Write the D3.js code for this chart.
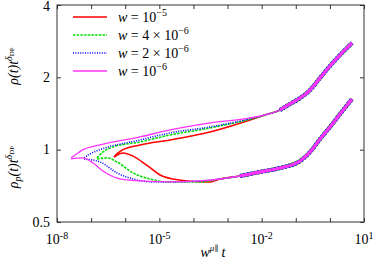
<!DOCTYPE html>
<html lang="en">
<head>
<meta charset="UTF-8">
<title>rho(t) scaling collapse</title>
<script src="https://d3js.org/d3.v7.min.js"></script>
<style>
  body { margin: 0; background: #fff; }
  svg { display: block; }
  text { font-family: "Liberation Serif", "DejaVu Serif", serif; fill: #000; }
  .axis path, .axis line { stroke: #333; }
</style>
</head>
<body>
<svg id="chart" width="374" height="263"></svg>
<script>
// legend / series
const seriesLabels = ["10^-5", "4 × 10^-6", "2 × 10^-6", "10^-6"];
const seriesColors = ["#ff0000", "#00e000", "#0000ff", "#ff33ff"];
const seriesDash = [null, "2.5,1.2", "1,1.4", null];

// rho(t) t^delta, early part of each curve (x = w^mu t)
const rhoX_a = [4.70e-7, 6.15e-7, 8.61e-7, 2.72e-6, 2.06e-5, 3.07e-4, 4.57e-3];
const rhoY_a = [0.932, 0.969, 1.0, 1.046, 1.097, 1.185, 1.329];
const rhoX_b = [1.49e-7, 2.23e-7, 3.58e-7, 2.72e-6, 2.06e-5, 3.07e-4, 4.57e-3];
const rhoY_b = [0.924, 0.978, 1.016, 1.077, 1.151, 1.231, 1.340];
const rhoX_c = [6.19e-8, 9.29e-8, 1.82e-7, 2.72e-6, 2.06e-5, 3.07e-4, 4.57e-3];
const rhoY_c = [0.924, 0.960, 1.0, 1.097, 1.174, 1.243, 1.345];
const rhoX_d = [2.58e-8, 4.13e-8, 5.78e-8, 1.82e-7, 2.72e-6, 2.06e-5, 3.07e-4, 4.57e-3];
const rhoY_d = [0.924, 0.969, 1.0, 1.046, 1.130, 1.208, 1.292, 1.355];

// rho_p(t) t^delta, early part
const rhoPX_a = [4.70e-7, 8.61e-7, 1.69e-6, 4.36e-6, 1.05e-5, 2.52e-5, 6.49e-5, 3.07e-4];
const rhoPY_a = [0.932, 0.969, 0.940, 0.860, 0.785, 0.755, 0.741, 0.734];
const rhoPX_b = [1.49e-7, 2.92e-7, 5.75e-7, 1.69e-6, 5.33e-6, 1.68e-5, 1.56e-4];
const rhoPY_b = [0.915, 0.924, 0.889, 0.800, 0.755, 0.734, 0.734];
const rhoPX_c = [6.19e-8, 1.82e-7, 5.75e-7, 1.69e-6, 6.53e-6, 1.68e-5, 1.56e-4];
const rhoPY_c = [0.915, 0.889, 0.800, 0.755, 0.734, 0.734, 0.741];
const rhoPX_d = [2.58e-8, 5.41e-8, 1.14e-7, 2.23e-7, 5.75e-7, 2.72e-6, 2.06e-5, 1.56e-4];
const rhoPY_d = [0.915, 0.924, 0.880, 0.815, 0.762, 0.741, 0.734, 0.741];

// collapsed late-time part (all w overlap)
const tailX_rho = [1.26e-2, 3.47e-2, 6.81e-2, 0.134, 0.262, 0.516, 1.01, 1.99, 4.48];
const tailY_rho = [1.395, 1.463, 1.55, 1.64, 1.77, 1.99, 2.23, 2.48, 2.78];
const tailX_rhoP = [6.03e-4, 2.33e-3, 8.97e-3, 3.47e-2, 0.134, 0.262, 0.516, 1.01, 1.99, 4.48];
const tailY_rhoP = [0.755, 0.777, 0.808, 0.839, 0.897, 0.978, 1.108, 1.243, 1.408, 1.626];

const xTicks = [1e-8, 1e-7, 1e-6, 1e-5, 1e-4, 1e-3, 1e-2, 1e-1, 1, 10];
const xLabelExp = [-8, -5, -2, 1];
const yTicks = [0.5, 1, 2, 4];

const svg = d3.select("#chart"),
    margin = {top: 5, right: 10, bottom: 41, left: 57},
    width = +svg.attr("width") - margin.left - margin.right,
    height = +svg.attr("height") - margin.top - margin.bottom,
    g = svg.append("g").attr("transform", `translate(${margin.left},${margin.top})`);

const x = d3.scaleLog().domain([1e-8, 10]).range([0, width]);
const y = d3.scaleLog().domain([0.5, 4]).range([height, 0]);

// frame
g.append("rect").attr("width", width).attr("height", height)
    .attr("fill", "none").attr("stroke", "#333").attr("stroke-width", 1);

// axes with inward ticks
g.append("g").attr("class", "axis").attr("transform", `translate(0,${height})`)
    .call(d3.axisBottom(x).tickValues(xTicks).tickSize(-4).tickFormat(""))
    .call(a => a.select(".domain").remove());
g.append("g").attr("class", "axis")
    .call(d3.axisTop(x).tickValues(xTicks).tickSize(-4).tickFormat(""))
    .call(a => a.select(".domain").remove());
g.append("g").attr("class", "axis")
    .call(d3.axisLeft(y).tickValues(yTicks).tickSize(-4).tickFormat(""))
    .call(a => a.select(".domain").remove());
g.append("g").attr("class", "axis").attr("transform", `translate(${width},0)`)
    .call(d3.axisRight(y).tickValues(yTicks).tickSize(-4).tickFormat(""))
    .call(a => a.select(".domain").remove());

// tick labels (top one kept inside the picture)
g.selectAll(".ylab").data(yTicks).enter().append("text")
    .attr("x", -7).attr("y", d => Math.max(y(d) + 4.5, 6))
    .attr("text-anchor", "end").attr("font-size", 14)
    .text(d => d);

const xl = g.selectAll(".xlab").data(xLabelExp).enter().append("text")
    .attr("x", d => x(Math.pow(10, d))).attr("y", height + 22)
    .attr("text-anchor", "middle").attr("font-size", 14);
xl.append("tspan").text("10");
xl.append("tspan").attr("dy", -5).attr("font-size", 10).text(d => d < 0 ? "-" + (-d) : d);

// axis titles
function ylabel(cy, sub) {
    const t = svg.append("text").attr("transform", `translate(18,${cy}) rotate(-90)`)
        .attr("text-anchor", "middle").attr("font-size", 14).attr("font-style", "italic");
    t.append("tspan").text("ρ");
    if (sub) t.append("tspan").attr("dy", 3).attr("font-size", 10).text("p");
    t.append("tspan").attr("dy", sub ? -3 : 0).text("(t)t");
    t.append("tspan").attr("dy", -6).attr("font-size", 10).text("δ");
    t.append("tspan").attr("dy", 2).attr("font-size", 7).attr("font-style", "normal").text("DP");
}
ylabel(66, false);
ylabel(167, true);

const xt = svg.append("text").attr("x", 213).attr("y", 257)
    .attr("text-anchor", "middle").attr("font-size", 14).attr("font-style", "italic");
xt.append("tspan").text("w");
xt.append("tspan").attr("dy", -6).attr("font-size", 9).text("μ");
xt.append("tspan").attr("font-size", 8).attr("font-style", "normal").text("∥");
xt.append("tspan").attr("dy", 6).text(" t");

// curves
const line = d3.line().x(d => x(d[0])).y(d => y(d[1])).curve(d3.curveMonotoneX);
const zip = (xs, ys) => xs.map((v, i) => [v, ys[i]]);

const rhoX = [rhoX_a, rhoX_b, rhoX_c, rhoX_d], rhoY = [rhoY_a, rhoY_b, rhoY_c, rhoY_d];
const rhoPX = [rhoPX_a, rhoPX_b, rhoPX_c, rhoPX_d], rhoPY = [rhoPY_a, rhoPY_b, rhoPY_c, rhoPY_d];

const plot = g.append("g");
seriesLabels.forEach((s, i) => {
    const up = zip(rhoX[i], rhoY[i]).concat(zip(tailX_rho, tailY_rho));
    const lo = zip(rhoPX[i], rhoPY[i]).concat(zip(tailX_rhoP, tailY_rhoP));
    [up, lo].forEach(pts => {
        plot.append("path").datum(pts)
            .attr("fill", "none")
            .attr("stroke", seriesColors[i])
            .attr("stroke-width", i === 3 ? 1.3 : 1.6)
            .attr("stroke-dasharray", seriesDash[i])
            .attr("d", line);
    });
    // noisy late-time band
    [zip(tailX_rho, tailY_rho), zip(tailX_rhoP, tailY_rhoP)].forEach(pts => {
        plot.append("path").datum(pts.slice(1))
            .attr("fill", "none")
            .attr("stroke", seriesColors[i])
            .attr("stroke-width", [3.5, 4, 4.2, 3.2][i])
            .attr("stroke-dasharray", i === 2 ? "2,1.5" : null)
            .attr("d", line);
    });
});

// legend
const leg = svg.append("g").selectAll("g").data(seriesLabels).enter().append("g")
    .attr("transform", (d, i) => `translate(0,${17 + i * 18})`);
leg.append("line").attr("x1", 73).attr("x2", 107)
    .attr("stroke", (d, i) => seriesColors[i])
    .attr("stroke-width", (d, i) => i === 3 ? 1.3 : 1.6)
    .attr("stroke-dasharray", (d, i) => seriesDash[i]);
const lt = leg.append("text").attr("x", 118).attr("y", 5).attr("font-size", 14);
lt.append("tspan").attr("font-style", "italic").text("w");
lt.append("tspan").text(d => " = " + d.split("^")[0]);
lt.append("tspan").attr("dy", -6).attr("font-size", 10).text(d => d.split("^")[1].replace("-", "−"));
</script>
</body>
</html>
